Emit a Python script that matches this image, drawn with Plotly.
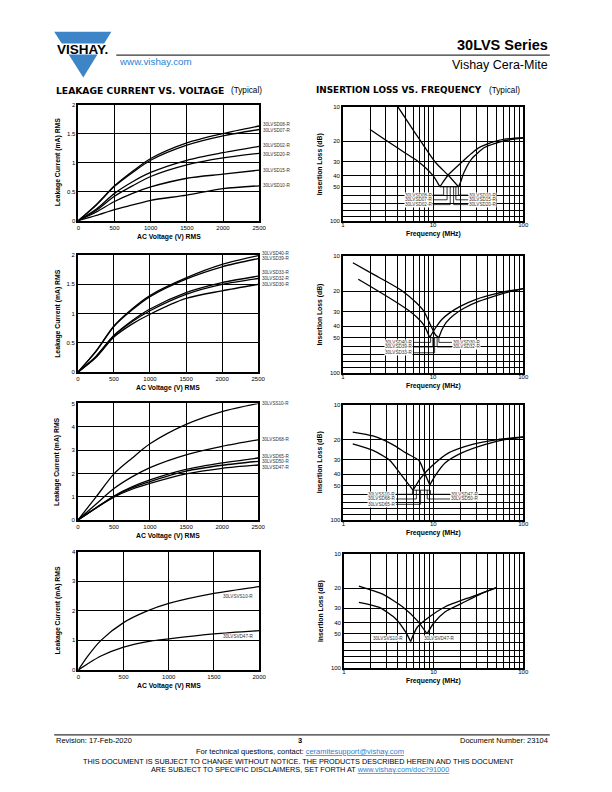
import numpy as np
import plotly.graph_objects as go

FONT = "Liberation Sans"
W, H = 612, 792

# ---------------- DATA ----------------
# Chart 1: leakage current vs voltage
volts_1 = [0, 250, 500, 750, 1000, 1500, 2000, 2500]
names_1 = ["30LVSD08-R", "30LVSD07-R", "30LVSD02-R", "30LVSD20-R", "30LVSD15-R", "30LVSD10-R"]
i_d08 = [0, 0.28, 0.60, 0.85, 1.07, 1.34, 1.50, 1.63]
i_d07 = [0, 0.27, 0.59, 0.83, 1.04, 1.30, 1.46, 1.57]
i_d02 = [0, 0.20, 0.47, 0.67, 0.83, 1.04, 1.17, 1.28]
i_d20 = [0, 0.18, 0.42, 0.60, 0.76, 0.96, 1.08, 1.16]
i_d15 = [0, 0.15, 0.33, 0.47, 0.58, 0.73, 0.80, 0.87]
i_d10 = [0, 0.09, 0.19, 0.27, 0.35, 0.44, 0.55, 0.60]

# Chart 2
volts_2 = [0, 250, 500, 750, 1000, 1500, 2000, 2500]
names_2 = ["30LVSD40-R", "30LVSD39-R", "30LVSD33-R", "30LVSD32-R", "30LVSD30-R"]
i_d40 = [0, 0.36, 0.79, 1.08, 1.31, 1.61, 1.84, 1.99]
i_d39 = [0, 0.35, 0.78, 1.06, 1.29, 1.59, 1.80, 1.94]
i_d33 = [0, 0.27, 0.63, 0.88, 1.08, 1.36, 1.53, 1.64]
i_d32 = [0, 0.26, 0.62, 0.86, 1.05, 1.33, 1.50, 1.60]
i_d30 = [0, 0.25, 0.60, 0.82, 0.99, 1.26, 1.39, 1.50]

# Chart 3
volts_3 = [0, 250, 500, 750, 1000, 1500, 2000, 2500]
names_3 = ["30LVSS10-R", "30LVSD68-R", "30LVSD65-R", "30LVSD50-R", "30LVSD47-R"]
i_s10 = [0, 0.98, 1.98, 2.65, 3.27, 4.10, 4.65, 5.00]
i_d68 = [0, 0.68, 1.35, 1.85, 2.25, 2.80, 3.16, 3.44]
i_d65 = [0, 0.52, 1.03, 1.42, 1.72, 2.17, 2.45, 2.66]
i_d50 = [0, 0.52, 1.01, 1.38, 1.65, 2.10, 2.35, 2.52]
i_d47 = [0, 0.51, 0.98, 1.32, 1.57, 1.98, 2.22, 2.36]

# Chart 4
volts_4 = [0, 100, 250, 500, 750, 1000, 1500, 2000]
names_4 = ["30LVSVS10-R", "30LVSVD47-R"]
i_vs10 = [0, 0.45, 1.00, 1.60, 1.98, 2.25, 2.59, 2.82]
i_vd47 = [0, 0.20, 0.47, 0.77, 0.95, 1.05, 1.22, 1.33]

# Insertion loss charts (frequency MHz, loss dB) - falling and rising branches
r1_a_fall_f = [2.0, 3.0, 5.0, 7.0, 10.0, 11.9]
r1_a_fall_db = [15.8, 19.6, 25.6, 30.5, 40, 50]
r1_a_rise_f = [11.9, 13.0, 14.9, 20.8, 26.8, 31.7, 44.6, 62, 100]
r1_a_rise_db = [50, 45, 39, 30.5, 25.5, 23, 20.5, 19.2, 18.6]
r1_b_fall_f = [4.06, 5.45, 7.3, 10.6, 14.9, 19.2]
r1_b_fall_db = [10, 14.2, 20, 30.5, 40, 50]
r1_b_rise_f = [19.2, 20.5, 21.7, 26.8, 37.6, 62, 100]
r1_b_rise_db = [50, 44, 38.5, 28.5, 22.6, 19.8, 18.8]

r2_a_fall_f = [1.48, 2.16, 3.29, 5.0, 6.43, 7.95, 9.17]
r2_a_fall_db = [15.8, 18.8, 22.9, 28.2, 32.8, 39.3, 50]
r2_a_rise_f = [9.17, 10.5, 12.5, 15, 20, 30, 50, 75, 100]
r2_a_rise_db = [50, 42, 35, 31, 27, 23.5, 21, 19.7, 19]
r2_b_fall_f = [1.29, 2.16, 3.29, 4.6, 6.43, 7.95, 9.4, 10.65, 11.6]
r2_b_fall_db = [11.4, 14.3, 17.1, 20, 24.9, 29.9, 39.3, 47.5, 50]
r2_b_rise_f = [11.6, 12.5, 14, 17, 22, 32, 50, 75, 100]
r2_b_rise_db = [50, 43, 37, 32, 28, 24.5, 21.8, 20, 19]

r3_a_fall_f = [1.27, 2.13, 3.25, 4.55, 5.95]
r3_a_fall_db = [21.8, 24.8, 30.1, 42.0, 55.0]
r3_a_rise_f = [5.95, 7.2, 9.7, 14.8, 26.6, 52.2, 100]
r3_a_rise_db = [55, 43.4, 33.8, 26.1, 22.1, 20.0, 19.0]
r3_b_fall_f = [1.27, 2.13, 3.54, 4.95, 6.93, 8.06, 9.15]
r3_b_fall_db = [17.2, 18.6, 22.1, 26.1, 30.4, 39.6, 49.5]
r3_b_rise_f = [9.15, 10.6, 13.6, 20.7, 37.2, 62, 100]
r3_b_rise_db = [49.5, 40.7, 31.8, 26.1, 22.1, 20, 19]

r4_a_fall_f = [1.47, 2.49, 3.8, 4.89, 5.55]
r4_a_fall_db = [26.6, 29.5, 37.2, 48.6, 58.6]
r4_a_rise_f = [5.55, 6.58, 8.86, 13.5, 26.5, 50]
r4_a_rise_db = [58.6, 44.0, 36.0, 29.1, 23.8, 19.9]
r4_b_fall_f = [1.47, 2.71, 4.5, 6.58, 8.47]
r4_b_fall_db = [19.2, 22.6, 29.1, 38.5, 50.3]
r4_b_rise_f = [8.47, 10.0, 13.5, 20.6, 34.1, 50]
r4_b_rise_db = [50.3, 40.6, 32.2, 27.2, 22.3, 19.8]

# Part labels on insertion-loss charts
r1_left_names = ["30LVSD08-R", "30LVSD07-R", "30LVSD02-R"]
r1_right_names = ["30LVSD10-R", "30LVSD15-R", "30LVSD20-R"]
r2_left_names = ["30LVSD40-R", "30LVSD39-R", "30LVSD33-R"]
r2_right_names = ["30LVSD30-R", "30LVSD32-R"]
r3_left_names = ["30LVSS10-R", "30LVSD68-R", "30LVSD65-R"]
r3_right_names = ["30LVSD47-R", "30LVSD50-R"]

# axis ticks
log_x_vals = [1, 2, 3, 4, 5, 6, 7, 8, 9, 10, 20, 30, 40, 50, 60, 70, 80, 90, 100]
log_x_text = ["1"] + [""] * 8 + ["10"] + [""] * 8 + ["100"]
log_y_vals = [10, 20, 30, 40, 50, 60, 70, 80, 90, 100]
log_y_text = ["10", "20", "30", "40", "50", "", "", "", "", "100"]

# ---------------- HELPERS ----------------
def X(p):
    return p / W


def Y(p):
    return 1 - p / H


def xr(k):
    return "x" if k == 1 else f"x{k}"


def yr(k):
    return "y" if k == 1 else f"y{k}"


def xkey(k):
    return "xaxis" if k == 1 else f"xaxis{k}"


def ykey(k):
    return "yaxis" if k == 1 else f"yaxis{k}"


fig = go.Figure()
layout_axes = {}
annotations = []
shapes = []

tickfont = dict(family=FONT, size=6, color="black")
titlefont = dict(family=FONT, size=6.8, color="black")
common = dict(showgrid=True, gridcolor="black", gridwidth=1, showline=True,
              linecolor="black", linewidth=1.5, mirror=True, ticks="",
              zeroline=False, fixedrange=True, tickfont=tickfont)

# pixel boxes (x0, x1, ytop, ybottom)
left_boxes = [(77.5, 261, 102.3, 219.3), (77, 260, 254, 372),
              (77, 260, 403.5, 521), (77.5, 261, 553, 672)]
right_boxes = [(346, 529, 104.5, 220), (346, 529, 255, 372.5),
               (346.5, 529, 405, 521), (347, 529, 555, 670)]

left_sets = [
    (volts_1, names_1, [i_d08, i_d07, i_d02, i_d20, i_d15, i_d10], 2500, 2, 0.5,
     [2, -1, 1, -1, 0, 0]),
    (volts_2, names_2, [i_d40, i_d39, i_d33, i_d32, i_d30], 2500, 2, 0.5,
     [2, 0, 4, 0, 0]),
    (volts_3, names_3, [i_s10, i_d68, i_d65, i_d50, i_d47], 2500, 5, 1,
     [0, 0, 2, 0, -2]),
    (volts_4, names_4, [i_vs10, i_vd47], 2000, 4, 1, None),
]

line_style = dict(color="black", width=1.3, shape="spline", smoothing=0.8)
small_font = dict(family=FONT, size=4.6, color="#333")

for idx, (box, (vx, names, vals, xmax, ymax, ydt, lshift)) in enumerate(zip(left_boxes, left_sets)):
    k = 2 * idx + 1
    x0, x1, yt, yb = box
    layout_axes[xkey(k)] = dict(domain=[X(x0), X(x1)], range=[0, xmax], dtick=500, tick0=0,
                                anchor=yr(k), **common)
    layout_axes[ykey(k)] = dict(domain=[Y(yb), Y(yt)], range=[0, ymax], dtick=ydt, tick0=0,
                                anchor=xr(k), **common)
    for nm, v in zip(names, vals):
        fig.add_trace(go.Scatter(x=vx, y=v, mode="lines", line=line_style, name=nm,
                                 xaxis=xr(k), yaxis=yr(k), showlegend=False, hoverinfo="skip"))
        if lshift is not None:
            sh = lshift[names.index(nm)]
            annotations.append(dict(x=xmax, y=v[-1], xref=xr(k), yref=yr(k), text=nm,
                                    showarrow=False, xanchor="left", yanchor="middle",
                                    xshift=1.5, yshift=sh, font=small_font))
        else:
            sh = -10 if names.index(nm) == 0 else -6
            annotations.append(dict(x=xmax, y=v[-1], xref=xr(k), yref=yr(k), text=nm,
                                    showarrow=False, xanchor="right", yanchor="middle",
                                    xshift=-4, yshift=sh, font=small_font))
    cx = (x0 + x1) / 2
    cy = (yt + yb) / 2
    annotations.append(dict(x=X(cx), y=Y(yb + 16), xref="paper", yref="paper",
                            text="<b>AC Voltage (V) RMS</b>", showarrow=False,
                            xanchor="center", yanchor="middle", font=titlefont))
    annotations.append(dict(x=X(x0 - 21), y=Y(cy), xref="paper", yref="paper",
                            text="<b>Leakage Current (mA) RMS</b>", showarrow=False, textangle=-90,
                            xanchor="center", yanchor="middle", font=titlefont))

right_sets = [
    [(r1_a_fall_f, r1_a_fall_db), (r1_a_rise_f, r1_a_rise_db),
     (r1_b_fall_f, r1_b_fall_db), (r1_b_rise_f, r1_b_rise_db)],
    [(r2_a_fall_f, r2_a_fall_db), (r2_a_rise_f, r2_a_rise_db),
     (r2_b_fall_f, r2_b_fall_db), (r2_b_rise_f, r2_b_rise_db)],
    [(r3_a_fall_f, r3_a_fall_db), (r3_a_rise_f, r3_a_rise_db),
     (r3_b_fall_f, r3_b_fall_db), (r3_b_rise_f, r3_b_rise_db)],
    [(r4_a_fall_f, r4_a_fall_db), (r4_a_rise_f, r4_a_rise_db),
     (r4_b_fall_f, r4_b_fall_db), (r4_b_rise_f, r4_b_rise_db)],
]

# label layout (style): label dB rows, label edge freq, leader freqs
right_label_cfg = [
    dict(left=r1_left_names, right=r1_right_names, rows=[59.0, 64.9, 71.5],
         lf=9.9, rf=24.6, llead=[13.1, 14.3, 15.5], rlead=[19.1, 17.9, 16.9]),
    dict(left=r2_left_names, right=r2_right_names, rows=[55.0, 60.2, 67.5],
         lf=6.0, rf=16.2, llead=[9.4, 9.95, 10.4], rlead=[11.6, 11.1]),
    dict(left=r3_left_names, right=r3_right_names, rows=[59.7, 65.6, 73.0],
         lf=3.84, rf=15.4, llead=[5.86, 6.48, 7.22], rlead=[9.29, 8.56]),
    None,
]

lead_style = dict(color="black", width=0.8)
rline = dict(color="black", width=1.3, shape="spline", smoothing=0.6)

for idx, (box, branches) in enumerate(zip(right_boxes, right_sets)):
    k = 2 * idx + 2
    x0, x1, yt, yb = box
    layout_axes[xkey(k)] = dict(domain=[X(x0), X(x1)], type="log", range=[0, 2],
                                tickvals=log_x_vals, ticktext=log_x_text, anchor=yr(k),
                                ticklabelstandoff=-3, **common)
    layout_axes[ykey(k)] = dict(domain=[Y(yb), Y(yt)], type="log", range=[2, 1],
                                tickvals=log_y_vals, ticktext=log_y_text, anchor=xr(k), **common)
    for f, db in branches:
        fig.add_trace(go.Scatter(x=f, y=db, mode="lines", line=rline, xaxis=xr(k), yaxis=yr(k),
                                 showlegend=False, hoverinfo="skip"))
    cfg = right_label_cfg[idx]
    if cfg is not None:
        a_min_f, a_min_db = branches[0][0][-1], branches[0][1][-1]
        b_min_f, b_min_db = branches[2][0][-1], branches[2][1][-1]
        base = max(a_min_db, b_min_db)
        fig.add_trace(go.Scatter(x=[a_min_f, b_min_f], y=[base, base], mode="lines",
                                 line=lead_style, xaxis=xr(k), yaxis=yr(k),
                                 showlegend=False, hoverinfo="skip"))
        for i, nm in enumerate(cfg["left"]):
            row = cfg["rows"][i]
            fig.add_trace(go.Scatter(x=[cfg["lf"], cfg["llead"][i], cfg["llead"][i]],
                                     y=[row, row, base], mode="lines", line=lead_style,
                                     xaxis=xr(k), yaxis=yr(k), showlegend=False, hoverinfo="skip"))
            annotations.append(dict(x=np.log10(cfg["lf"]), y=np.log10(row), xref=xr(k), yref=yr(k),
                                    text=nm, showarrow=False, xanchor="right", yanchor="middle",
                                    bgcolor="white", borderpad=0, font=small_font))
        for i, nm in enumerate(cfg["right"]):
            row = cfg["rows"][i]
            fig.add_trace(go.Scatter(x=[cfg["rf"], cfg["rlead"][i], cfg["rlead"][i]],
                                     y=[row, row, base], mode="lines", line=lead_style,
                                     xaxis=xr(k), yaxis=yr(k), showlegend=False, hoverinfo="skip"))
            annotations.append(dict(x=np.log10(cfg["rf"]), y=np.log10(row), xref=xr(k), yref=yr(k),
                                    text=nm, showarrow=False, xanchor="left", yanchor="middle",
                                    bgcolor="white", borderpad=0, font=small_font))
    else:
        annotations.append(dict(x=np.log10(3.12), y=np.log10(54.8), xref=xr(k), yref=yr(k),
                                text="30LVSVS10-R", showarrow=False, xanchor="center",
                                bgcolor="white", borderpad=0, font=small_font))
        annotations.append(dict(x=np.log10(11.6), y=np.log10(54.8), xref=xr(k), yref=yr(k),
                                text="30LVSVD47-R", showarrow=False, xanchor="center",
                                bgcolor="white", borderpad=0, font=small_font))
    cx = (x0 + x1) / 2
    cy = (yt + yb) / 2
    annotations.append(dict(x=X(cx), y=Y(yb + 13), xref="paper", yref="paper",
                            text="<b>Frequency (MHz)</b>", showarrow=False,
                            xanchor="center", yanchor="middle", font=titlefont))
    annotations.append(dict(x=X(x0 - 23), y=Y(cy), xref="paper", yref="paper",
                            text="<b>Insertion Loss (dB)</b>", showarrow=False, textangle=-90,
                            xanchor="center", yanchor="middle", font=titlefont))

# ---------------- HEADER / FOOTER ----------------
blue = "#3d85c6"
link = "#2a7fd4"
shapes.append(dict(type="path", xref="paper", yref="paper",
                   path=f"M {X(53)} {Y(29)} L {X(111)} {Y(29)} L {X(82.5)} {Y(75)} Z",
                   fillcolor=blue, line=dict(width=0)))
shapes.append(dict(type="rect", xref="paper", yref="paper", x0=X(50), x1=X(114),
                   y0=Y(52), y1=Y(40.7), fillcolor="white", line=dict(width=0)))
shapes.append(dict(type="line", xref="paper", yref="paper", x0=X(116), x1=X(556),
                   y0=Y(52.5), y1=Y(52.5), line=dict(color="black", width=1)))
shapes.append(dict(type="line", xref="paper", yref="paper", x0=X(53), x1=X(556),
                   y0=Y(737.5), y1=Y(737.5), line=dict(color="black", width=1)))


def txt(x, y, text, size, anchor="left", color="black", family=FONT):
    annotations.append(dict(x=X(x), y=Y(y), xref="paper", yref="paper", text=text,
                            showarrow=False, xanchor=anchor, yanchor="middle",
                            font=dict(family=family, size=size, color=color)))


txt(82, 46.5, "<b>VISHAY.</b>", 13.5, "center")
txt(117, 59, "www.vishay.com", 9.8, "left", link)
txt(556, 42, "<b>30LVS Series</b>", 14.5, "right")
txt(556, 62, "Vishay Cera-Mite", 12.5, "right")
txt(53, 88, "<b>LEAKAGE CURRENT VS. VOLTAGE</b>", 9.2, "left", family="DejaVu Sans")
txt(230, 88, "(Typical)", 8.2, "left")
txt(317, 88, "<b>INSERTION LOSS VS. FREQUENCY</b>", 8.9, "left", family="DejaVu Sans")
txt(492, 88, "(Typical)", 8.2, "left")

txt(53, 743.5, "Revision: 17-Feb-2020", 7.5, "left")
txt(302, 743.5, "<b>3</b>", 7.5, "center")
txt(556, 743.5, "Document Number: 23104", 7.5, "right")
txt(302, 754, "For technical questions, contact: "
    f"<span style='color:{link};text-decoration:underline'>ceramitesupport@vishay.com</span>",
    7.5, "center")
txt(301, 764, "THIS DOCUMENT IS SUBJECT TO CHANGE WITHOUT NOTICE. THE PRODUCTS DESCRIBED HEREIN AND THIS DOCUMENT",
    7.3, "center")
txt(302, 772.5, "ARE SUBJECT TO SPECIFIC DISCLAIMERS, SET FORTH AT "
    f"<span style='color:{link};text-decoration:underline'>www.vishay.com/doc?91000</span>",
    7.3, "center")

fig.update_layout(width=W, height=H, autosize=False,
                  margin=dict(l=0, r=0, t=0, b=0),
                  paper_bgcolor="white", plot_bgcolor="white",
                  font=dict(family=FONT, color="black"),
                  showlegend=False, annotations=annotations, shapes=shapes,
                  **layout_axes)

fig.write_html("out.html", config={"displayModeBar": False},
               post_script="document.body.style.margin='0px';document.body.style.padding='0px';")
